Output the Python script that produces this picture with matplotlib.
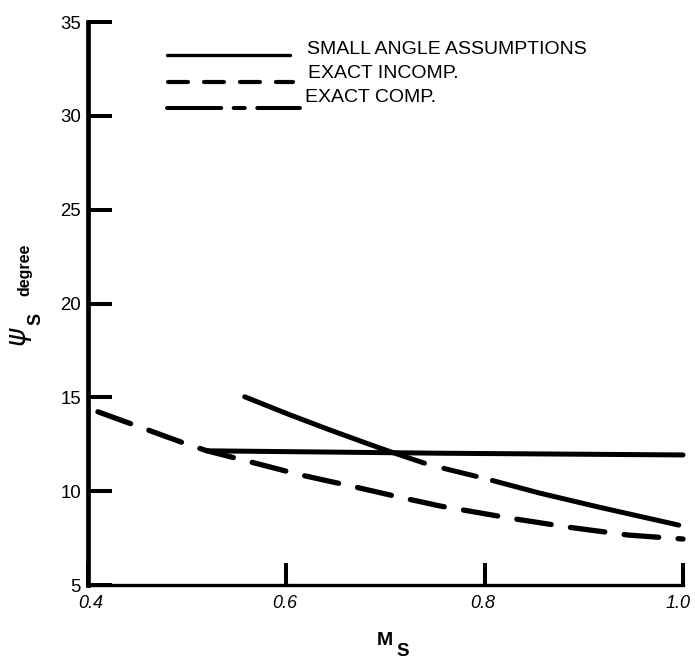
import matplotlib
matplotlib.use("Agg")
import matplotlib.pyplot as plt
from matplotlib.lines import Line2D
from matplotlib.transforms import ScaledTranslation

plt.rcParams["lines.scale_dashes"] = False
plt.rcParams["font.family"] = ["Liberation Sans", "DejaVu Sans"]

# ---- data -------------------------------------------------------------
x_ticks = [0.4, 0.6, 0.8, 1.0]
x_tick_labels = ["0.4", "0.6", "0.8", "1.0"]
y_ticks = [5, 10, 15, 20, 25, 30, 35]
y_tick_labels = ["5", "10", "15", "20", "25", "30", "35"]

series_names = ["SMALL ANGLE ASSUMPTIONS", "EXACT INCOMP.", "EXACT COMP."]

small_m = [0.52, 0.76, 1.0]
small_psi = [12.15, 12.02, 11.93]

incomp_m = [0.41, 0.50, 0.52, 0.563, 0.615, 0.668, 0.715, 0.755, 0.827, 0.886, 0.945, 1.0]
incomp_psi = [14.23, 12.50, 12.15, 11.57, 10.86, 10.24, 9.67, 9.21, 8.55, 8.07, 7.66, 7.45]

comp_m = [0.558, 0.604, 0.644, 0.681, 0.705, 0.745, 0.797, 0.856, 0.916, 1.0]
comp_psi = [15.03, 14.06, 13.26, 12.55, 12.10, 11.39, 10.72, 9.89, 9.14, 8.14]

# ---- figure layout (pixel helpers) ------------------------------------
W, H = 695, 662
fig = plt.figure(figsize=(W / 100, H / 100), dpi=100)


def fx(px):
    return px / W


def fy(py):
    return 1 - py / H


ax = fig.add_axes([fx(88), fy(585), fx(683) - fx(88), fy(22) - fy(585)])
ax.set_xlim(0.4, 1.0)
ax.set_ylim(5, 35)

# ---- curves -----------------------------------------------------------
styles = [
    dict(lw=3.6, linestyle="-", solid_capstyle="round"),
    dict(lw=3.8, dashes=(25, 14), dash_capstyle="round"),
    dict(lw=3.6, dashes=(138, 14.5, 24, 12), dash_capstyle="round"),
]
for (m, psi), st in zip([(small_m, small_psi), (incomp_m, incomp_psi), (comp_m, comp_psi)], styles):
    ax.plot(m, psi, color="black", clip_on=False, **st)

# ---- axes frame and ticks ---------------------------------------------
for side in ("top", "right"):
    ax.spines[side].set_visible(False)
ax.spines["left"].set_linewidth(3.4)
ax.spines["bottom"].set_linewidth(2.4)

ax.set_xticks(x_ticks)
ax.set_xticklabels(x_tick_labels, fontstyle="italic", fontsize=13)
ax.set_yticks(y_ticks)
ax.set_yticklabels(y_tick_labels, fontsize=13.4)
ax.tick_params(axis="x", direction="in", length=16, width=2.9, pad=7)
ax.tick_params(axis="y", direction="in", length=17.5, width=2.9, pad=5)

# nudge the x tick labels slightly (last one stays inside the canvas)
x_nudges_px = [3, -2, -2, -5]
for lab, dx in zip(ax.get_xticklabels(), x_nudges_px):
    lab.set_transform(lab.get_transform() + ScaledTranslation(dx / 100, 0, fig.dpi_scale_trans))

# ---- key ---------------------------------------------------------------
key_rows = [
    dict(x0=167, x1=290, y=55, lw=2.4, style=dict(linestyle="-", solid_capstyle="round"),
         tx=306.7, ty=54.3),
    dict(x0=168, x1=293, y=81.7, lw=3.0, style=dict(dashes=(14.4, 11.5), dash_capstyle="round"),
         tx=308, ty=78.3),
    dict(x0=167, x1=300, y=108.3, lw=2.9, style=dict(dashes=(39, 9, 8, 9), dash_capstyle="round"),
         tx=305, ty=101.7),
]
for name, row in zip(series_names, key_rows):
    fig.add_artist(Line2D([fx(row["x0"]), fx(row["x1"])], [fy(row["y"]), fy(row["y"])],
                          color="black", lw=row["lw"], **row["style"]))
    fig.text(fx(row["tx"]), fy(row["ty"]), name, fontsize=14, va="baseline", ha="left")

# ---- axis titles -------------------------------------------------------
fig.text(fx(377), fy(645), "M", fontsize=14, fontweight="bold", ha="left", va="baseline")
fig.text(fx(396), fy(656), "S", fontsize=13.5, fontweight="bold", ha="left", va="baseline")

fig.text(fx(21), fy(337), r"$\psi$", fontsize=20, rotation=90, ha="center", va="center")
fig.text(fx(36), fy(319), "S", fontsize=13, fontweight="bold", rotation=90, ha="center", va="center")
fig.text(fx(25), fy(270), "degree", fontsize=11.5, fontweight="bold", rotation=90,
         ha="center", va="center")

fig.savefig("out.png", dpi=100)
